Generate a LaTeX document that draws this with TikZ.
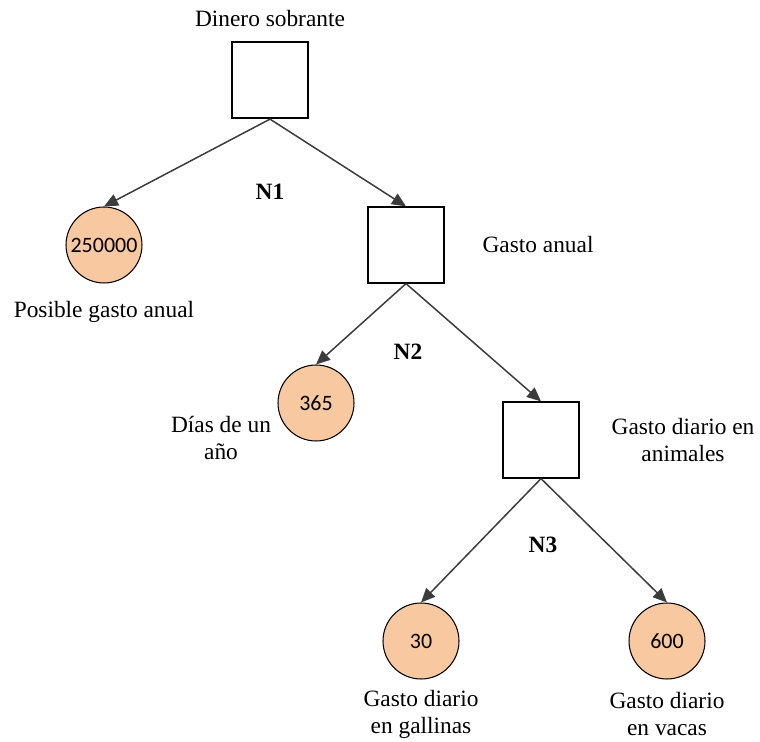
\documentclass[tikz,border=0pt]{standalone}
\usepackage{fontspec}
\setmainfont{Liberation Serif}
\newfontfamily\numfont{Carlito}
\usetikzlibrary{shapes, arrows.meta, positioning}
\definecolor{peach}{RGB}{248,200,160}
\definecolor{edgegray}{RGB}{60,60,60}

\begin{document}
\begin{tikzpicture}[x=0.02cm, y=-0.02cm,
    font=\fontsize{13.3}{15.3}\selectfont,
    box/.style={draw, rectangle, minimum size=1.52cm, inner sep=0pt, line width=0.7pt},
    leaf/.style={draw, circle, fill=peach, minimum size=1.52cm, inner sep=0pt, line width=0.6pt, font=\numfont\fontsize{12.5}{14}\selectfont},
    lbl/.style={align=center, inner sep=0pt},
    edge/.style={draw=edgegray, line width=0.85pt, -{Triangle[length=8pt, width=7pt]}}]
    \useasboundingbox (0,0) rectangle (760,742);

    % cajas
    \node (root) at (270,80) [box, line width=1.3pt] {};
    \node (anual) at (406,245) [box] {};
    \node (diario) at (541,440) [box] {};

    % hojas
    \node (posible) at (104,245) [leaf] {250000};
    \node (dias) at (316,403) [leaf] {365};
    \node (gallinas) at (421,641) [leaf] {30};
    \node (vacas) at (667,641) [leaf] {600};

    % textos
    \node at (270,19) [lbl] {Dinero sobrante};
    \node at (104,312) [lbl] {Posible gasto anual};
    \node at (538,245) [lbl] {Gasto anual};
    \node at (221,438) [lbl] {Días de un\\año};
    \node at (683,440) [lbl] {Gasto diario en\\animales};
    \node at (421,714) [lbl] {Gasto diario\\en gallinas};
    \node at (667,714) [lbl] {Gasto diario\\en vacas};
    \node at (270,192) [lbl, font=\bfseries\fontsize{13.3}{15.3}\selectfont] {N1};
    \node at (408,352) [lbl, font=\bfseries\fontsize{13.3}{15.3}\selectfont] {N2};
    \node at (543,545) [lbl, font=\bfseries\fontsize{13.3}{15.3}\selectfont] {N3};

    \draw[edge] (root.south) -- (posible.north);
    \draw[edge] (root.south) -- (anual.north);
    \draw[edge] (anual.south) -- (dias.north);
    \draw[edge] (anual.south) -- (diario.north);
    \draw[edge] (diario.south) -- (gallinas.north);
    \draw[edge] (diario.south) -- (vacas.north);
\end{tikzpicture}
\end{document}
